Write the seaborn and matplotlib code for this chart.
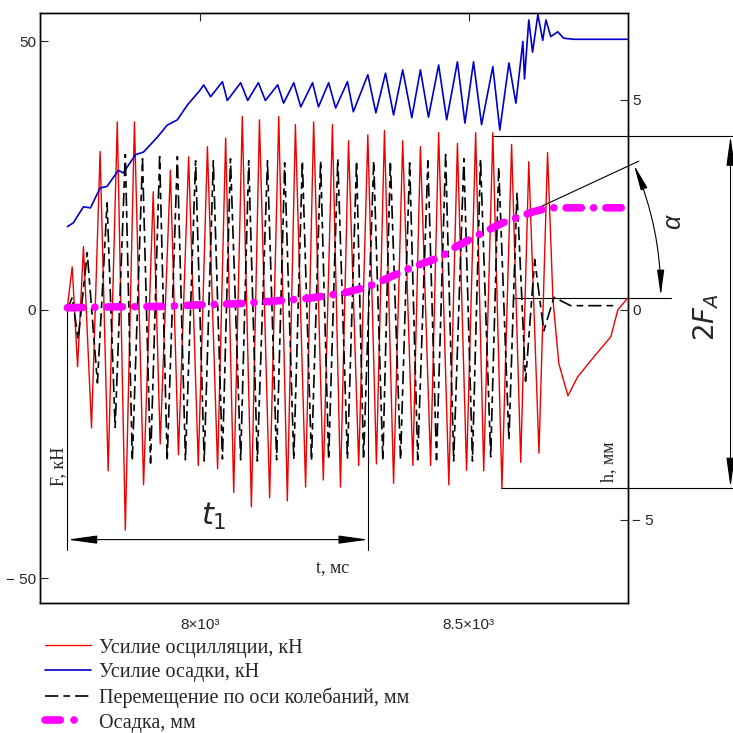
import matplotlib
matplotlib.use("Agg")
import matplotlib.pyplot as plt
import seaborn as sns
from matplotlib.lines import Line2D

# ---------------------------------------------------------
# values (t in ms)
# ---------------------------------------------------------

# Усилие осцилляции, кН (left axis)
osc_t = [7752, 7761, 7771, 7782, 7797, 7813, 7828, 7845, 7860, 7877, 7894, 7912, 7925, 7944,
         7959, 7978, 7996, 8013, 8032, 8047, 8062, 8078, 8095, 8110, 8129, 8146, 8162, 8177,
         8196, 8211, 8229, 8246, 8261, 8276, 8295, 8312, 8328, 8343, 8360, 8377, 8396, 8410,
         8429, 8444, 8463, 8479, 8496, 8513, 8528, 8545, 8562, 8580, 8597, 8612, 8631, 8647,
         8657, 8668, 8685, 8703, 8733, 8765, 8778, 8799]
osc_f = [0.6, 8, -10.6, 11.8, -22, 29.5, -30, 35, -41, 35, -32.6, 22, -25, 26,
         -27, 28.5, -29, 30.4, -29.6, 32, -34, 36, -36.7, 35.4, -35, 36, -35.6, 34.5,
         -33, 35, -31.7, 34.5, -33, 31.5, -29, 32.6, -28.7, 33.4, -32.3, 31.5, -29, 30.4,
         -29, 33, -32.6, 31, -29.9, 33, -30, 33, -33.2, 30.8, -28.4, 27.6, -26.7, 29.3,
         2, -10, -16, -12.5, -8.8, -5, 0, 2.5]

# Усилие осадки, кН (left axis)
upset_t = [7752, 7763, 7782, 7795, 7813, 7826, 7847, 7856, 7879, 7894, 7920, 7938, 7957, 7976,
           8000, 8006, 8019, 8041, 8050, 8075, 8088, 8108, 8121, 8144, 8155, 8174, 8187, 8209,
           8220, 8239, 8252, 8274, 8285, 8312, 8327, 8345, 8360, 8377, 8394, 8410, 8425, 8444,
           8459, 8479, 8493, 8509, 8524, 8545, 8558, 8575, 8588, 8601, 8604, 8612, 8619, 8629,
           8638, 8644, 8653, 8666, 8677, 8696, 8800]
upset_f = [15.5, 16.2, 19.2, 19.0, 22.7, 23.0, 26.0, 25.5, 28.9, 29.4, 32.2, 34.4, 35.4, 38.2,
           41, 41.9, 39.7, 42.5, 39, 42.3, 39, 42.3, 39, 41.9, 38.5, 42.3, 37.8, 42.3,
           37.8, 42.3, 37.6, 42.5, 36.9, 43.8, 36.7, 44.1, 36.3, 44.7, 35.8, 44.7, 35.9, 45.6,
           35.4, 46.2, 34.8, 46.2, 34.5, 45.3, 33.5, 46, 38.5, 50, 43, 54, 48, 55,
           50.2, 54, 50.9, 51.8, 50.6, 50.4, 50.4]

# Перемещение по оси колебаний, мм (right axis)
disp_t = [7752, 7761, 7772, 7789, 7808, 7826, 7841, 7860, 7873, 7892, 7907, 7924, 7938, 7957,
          7972, 7991, 8007, 8024, 8041, 8056, 8075, 8090, 8106, 8125, 8142, 8157, 8174, 8190,
          8207, 8224, 8239, 8256, 8274, 8291, 8304, 8323, 8340, 8354, 8373, 8390, 8405, 8424,
          8440, 8457, 8472, 8491, 8507, 8522, 8541, 8556, 8575, 8590, 8606, 8623, 8640, 8659,
          8690, 8771]
disp_h = [0, 0.3, -0.7, 1.36, -1.74, 2.55, -2.8, 3.7, -3.6, 3.6, -3.65, 3.65, -3.6, 3.65,
          -3.57, 3.55, -3.6, 3.55, -3.55, 3.6, -3.57, 3.55, -3.6, 3.55, -3.57, 3.5, -3.57, 3.55,
          -3.6, 3.55, -3.57, 3.6, -3.55, 3.55, -3.57, 3.55, -3.6, 3.55, -3.57, 3.5, -3.57, 3.55,
          -3.57, 3.7, -3.6, 3.6, -3.6, 3.6, -3.5, 3.4, -3.1, 2.8, -1.7, 1.2, -0.5, 0.3,
          0.1, 0.1]

# Осадка, мм (right axis)
set_t = [7752, 7832, 7925, 8000, 8075, 8149, 8205, 8267, 8312, 8341, 8392, 8448, 8476, 8519,
         8563, 8593, 8619, 8649, 8681, 8800]
set_h = [0.05, 0.07, 0.08, 0.12, 0.15, 0.22, 0.28, 0.4, 0.55, 0.71, 1.0, 1.26, 1.5, 1.79,
         2.07, 2.21, 2.33, 2.43, 2.43, 2.43]

x_ticks = [8000, 8500]
x_labels = ["8×10³", "8.5×10³"]
f_ticks = [-50, 0, 50]
f_labels = ["− 50", "0", "50"]
h_ticks = [-5, 0, 5]
h_labels = ["− 5", "0", "5"]

legend_labels = ["Усилие осцилляции, кН", "Усилие осадки, кН",
                 "Перемещение по оси колебаний, мм", "Осадка, мм"]

# ---------------------------------------------------------
# figure
# ---------------------------------------------------------
sns.set_style("white")
plt.rcParams["font.family"] = ["Liberation Sans", "DejaVu Sans"]
plt.rcParams["mathtext.fontset"] = "dejavusans"

SERIF = "Liberation Serif"
RED = "#ee0000"
BLUE = "#0000cc"
MAG = "#ff00ff"
SET_DASH = (2.0, 1.6, 0.01, 1.6)
DISP_DASH = (8, 3, 4, 3)

fig = plt.figure(figsize=(7.33, 7.33), dpi=100)
ax = fig.add_axes([0.0546, 0.1774, 0.8022, 0.8049])
ax2 = ax.twinx()

sns.lineplot(x=osc_t, y=osc_f, ax=ax, color=RED, linewidth=1.0, zorder=3)
sns.lineplot(x=upset_t, y=upset_f, ax=ax, color=BLUE, linewidth=1.2, zorder=3)
sns.lineplot(x=disp_t, y=disp_h, ax=ax2, color="black", linewidth=1.2, zorder=2)
sns.lineplot(x=set_t, y=set_h, ax=ax2, color=MAG, linewidth=5.5, zorder=4)

line_disp = ax2.lines[0]
line_disp.set_dashes(DISP_DASH)
line_set = ax2.lines[1]
line_set.set_dashes(SET_DASH)
line_set.set_dash_capstyle("round")

ax.set_xlim(7701, 8797)
ax.set_ylim(-54.6, 55.3)
ax2.set_ylim(-6.98, 7.07)

ax.set_xticks(x_ticks)
ax.set_xticklabels(x_labels)
ax.set_yticks(f_ticks)
ax.set_yticklabels(f_labels)
ax2.set_yticks(h_ticks)
ax2.set_yticklabels(h_labels)
ax.set_xlabel("")
ax.set_ylabel("")
ax2.set_ylabel("")

ax.tick_params(axis="x", direction="in", length=6, top=True, pad=11, labelsize=11)
ax.tick_params(axis="y", direction="in", length=6, pad=3, labelsize=11)
ax2.tick_params(axis="y", direction="in", length=6, pad=3, labelsize=11)
for a in (ax, ax2):
    for s in a.spines.values():
        s.set_color("black")
        s.set_linewidth(1.0)
        s.set_visible(True)

# axis titles inside the box
ax.text(7735, -29.2, "F, кН", rotation=90, ha="center", va="center",
        fontsize=13, family=SERIF)
ax.text(8761, -28.3, "h, мм", rotation=90, ha="center", va="center",
        fontsize=13, family=SERIF)
ax.text(8246, -48, "t, мс", ha="center", va="center", fontsize=13, family=SERIF)

# ---------------------------------------------------------
# dimension drawing
# ---------------------------------------------------------
arrow = "<|-|>,head_length=1.3,head_width=0.18"
kw = dict(color="black", lw=0.8, clip_on=False)

# t1
ax.plot([7752, 7752], [0, -44.7], **kw)
ax.plot([8313, 8313], [3.5, -44.7], **kw)
ax.annotate("", xy=(7752, -42.8), xytext=(8313, -42.8), annotation_clip=False,
            arrowprops=dict(arrowstyle=arrow, mutation_scale=14, color="black", lw=0.8,
                            shrinkA=0, shrinkB=0))
ax.text(8024, -38.5, "$t_1$", ha="center", va="center", fontsize=22)

# 2F_A
ax.plot([8545, 8994], [32.4, 32.4], **kw)
ax.plot([8560, 8994], [-33.1, -33.1], **kw)
ax.annotate("", xy=(8988, 32.4), xytext=(8988, -33.1), annotation_clip=False,
            arrowprops=dict(arrowstyle=arrow, mutation_scale=14, color="black", lw=0.8,
                            shrinkA=0, shrinkB=0))
ax.text(8942, -1.3, r"$\mathit{2F_A}$", rotation=90, ha="center", va="center", fontsize=20)

# alpha
ax.plot([8584, 8877], [2.2, 2.2], **kw)
ax.plot([8621, 8817], [18.6, 27.7], **kw)
ax.annotate("", xy=(8808, 27), xytext=(8858, 2.6), annotation_clip=False,
            arrowprops=dict(arrowstyle=arrow, mutation_scale=12, color="black", lw=0.8,
                            shrinkA=0, shrinkB=0, connectionstyle="arc3,rad=0.1"))
ax.text(8881, 16.4, "α", rotation=90, ha="center", va="center", fontsize=18,
        style="italic")

# ---------------------------------------------------------
# legend
# ---------------------------------------------------------
handles = [Line2D([], [], color=RED, lw=1.0),
           Line2D([], [], color=BLUE, lw=1.2),
           Line2D([], [], color="black", lw=1.2, dashes=DISP_DASH),
           Line2D([], [], color=MAG, lw=5.5, dashes=(2.0, 1.8, 0.01, 12),
                  dash_capstyle="round")]
fig.legend(handles, legend_labels, loc="upper left", bbox_to_anchor=(0.061, 0.129),
           frameon=False, prop={"family": SERIF, "size": 14.5}, handlelength=2.3,
           handletextpad=0.4, labelspacing=0.27, borderpad=0, borderaxespad=0)

fig.savefig("out.png", dpi=100)
